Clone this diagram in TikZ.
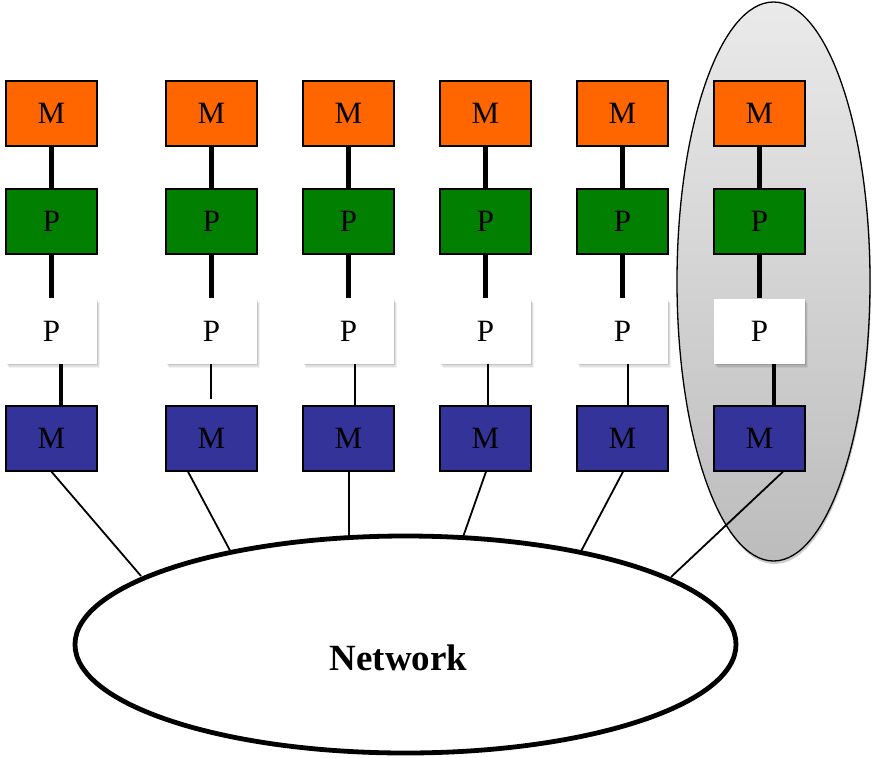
\documentclass[tikz,border=0pt]{standalone}
\usepackage{fontspec}
\setmainfont{Liberation Serif}
\usetikzlibrary{shapes.geometric,shadows}
\definecolor{morange}{HTML}{FF6600}
\definecolor{pgreen}{HTML}{007F00}
\definecolor{mblue}{HTML}{333399}
\definecolor{gtop}{HTML}{EAEAEA}
\definecolor{gbot}{HTML}{BCBCBC}
\begin{document}
\begin{tikzpicture}[x=1pt,y=-1pt,
  box/.style={rectangle,minimum width=91pt,minimum height=65pt,inner sep=0pt,
    font=\fontsize{31}{31}\selectfont},
  edgeshadow/.style={drop shadow={shadow xshift=0.8pt,shadow yshift=-0.8pt,fill=black,opacity=0.3}},
  mtop/.style={box,draw=black,line width=1.4pt,fill=morange,edgeshadow},
  pgr/.style={box,draw=black,line width=1.4pt,fill=pgreen,edgeshadow},
  pwh/.style={box,fill=white,
    drop shadow={shadow xshift=3pt,shadow yshift=-4.5pt,fill=black,opacity=0.05},
    drop shadow={shadow xshift=2pt,shadow yshift=-3pt,fill=black,opacity=0.08},
    drop shadow={shadow xshift=1pt,shadow yshift=-1.5pt,fill=black,opacity=0.12}},
  mbot/.style={box,draw=black,line width=1.4pt,fill=mblue,edgeshadow},
  thick link/.style={line width=4.3pt},
  thin link/.style={line width=2pt},
  netlink/.style={line width=1.8pt}]
\useasboundingbox (0,0) rectangle (872,757);
% group ellipse
\node[ellipse,draw=black,line width=1.3pt,minimum width=193pt,minimum height=559pt,inner sep=0pt,
  top color=gtop,bottom color=gbot,
  drop shadow={shadow xshift=1pt,shadow yshift=-3pt,fill=black,opacity=0.2}] (grp) at (773.5,281.5) {};
% columns
\foreach \i/\x in {1/51.5,2/211.5,3/348.5,4/485.5,5/622.5,6/759.5}{
  \node[mtop] (om\i) at (\x,113.5) {M};
  \node[pgr]  (gp\i) at (\x,221.5) {P};
  \node[pwh]  (wp\i) at (\x,331) {P};
  \node[mbot] (bm\i) at (\x,438.5) {M};
}
\foreach \i in {1,...,6}{
  \draw[thick link] (om\i.south) -- (gp\i.north);
  \draw[thick link] (gp\i.south) -- (wp\i.north);
}
\draw[thick link] ([xshift=9.5pt]wp1.south) -- ([xshift=9.5pt]wp1.south |- bm1.north);
\draw[thin link] ([xshift=-0.5pt]wp2.south) -- ([xshift=-0.5pt,yshift=6pt]wp2.south |- bm2.north);
\draw[thin link] ([xshift=6.5pt]wp3.south) -- ([xshift=6.5pt]wp3.south |- bm3.north);
\draw[thin link] ([xshift=2.5pt]wp4.south) -- ([xshift=2.5pt]wp4.south |- bm4.north);
\draw[thin link] ([xshift=5.5pt]wp5.south) -- ([xshift=5.5pt]wp5.south |- bm5.north);
\draw[thick link] ([xshift=14.5pt]wp6.south) -- ([xshift=14.5pt]wp6.south |- bm6.north);
% network endpoints
\coordinate (e1) at (141,576);
\coordinate (e2) at (234,558);
\coordinate (e3) at (349,537);
\coordinate (e4) at (463,537);
\coordinate (e5) at (578,557);
\coordinate (e6) at (671,577);
\draw[netlink] (bm1.south) -- (e1);
\draw[netlink] ([xshift=-23.5pt]bm2.south) -- (e2);
\draw[netlink] ([xshift=0.5pt]bm3.south) -- (e3);
\draw[netlink] ([xshift=0.5pt]bm4.south) -- (e4);
\draw[netlink] ([xshift=0.5pt]bm5.south) -- (e5);
\draw[netlink] ([xshift=23.5pt]bm6.south) -- (e6);
% network
\node[ellipse,draw=black,line width=4.8pt,fill=white,minimum width=661pt,minimum height=217pt,inner sep=0pt] (net) at (405.5,644.5) {};
\node[font=\fontsize{37}{37}\selectfont\bfseries,inner sep=0pt] (netlabel) at (398.5,657.5) {Network};
\end{tikzpicture}
\end{document}
